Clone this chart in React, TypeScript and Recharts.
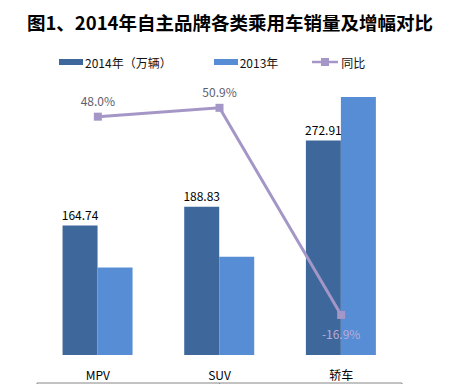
import React from 'react'
import { Bar, ComposedChart, LabelList, Line, XAxis, YAxis } from 'recharts'

const categories = ['MPV', 'SUV', '轿车']
const sales2014 = [164.74, 188.83, 272.91]
const sales2013 = [111.3, 125.1, 328.4]
const growth = [48.0, 50.9, -16.9]

const title = '图1、2014年自主品牌各类乘用车销量及增幅对比'
const legendNames = ['2014年（万辆）', '2013年', '同比']
const frameTicks = [0, 1, 2, 3]

const DARK = '#3E689C'
const LIGHT = '#568DD4'
const LINE = '#A496C6'
const FONT = '"Noto Sans CJK SC", "Noto Sans", sans-serif'

const data = categories.map((name, i) => ({
  name,
  y2014: sales2014[i],
  y2013: sales2013[i],
  yoy: growth[i],
}))

const SquareDot = (props: any) => {
  const { cx, cy } = props
  if (cx == null || cy == null) return null
  return <rect x={cx - 4} y={cy - 4} width={8} height={8} fill={LINE} />
}

const GrowthLabel = (props: any) => {
  const { x, y, value } = props
  const neg = value < 0
  return (
    <text
      x={x}
      y={neg ? y + 19 : y - 16}
      textAnchor="middle"
      dominantBaseline="central"
      fontSize={12}
      fontFamily={FONT}
      fill={neg ? '#B7ABDA' : '#5E5E6E'}
    >
      {value.toFixed(1) + '%'}
    </text>
  )
}

const NoTick = () => <g />

export default function App() {
  return (
    <div style={{ position: 'absolute', left: 0, top: 0, width: 452, height: 384, background: '#fff', fontFamily: FONT }}>
      <div
        style={{
          position: 'absolute',
          left: 4,
          top: 10,
          width: 452,
          textAlign: 'center',
          fontSize: 18.5,
          fontWeight: 'bold',
          lineHeight: '24px',
          color: '#000',
        }}
      >
        {title}
      </div>

      <div style={{ position: 'absolute', left: 59, top: 54, height: 16, display: 'flex', alignItems: 'center', fontSize: 12, color: '#111' }}>
        <span style={{ width: 24, height: 6, background: DARK, marginRight: 2 }} />
        <span>{legendNames[0]}</span>
        <span style={{ width: 24, height: 6, background: LIGHT, marginLeft: 42, marginRight: 2 }} />
        <span>{legendNames[1]}</span>
        <svg width={26} height={10} style={{ marginLeft: 34, marginRight: 3 }}>
          <line x1={0} y1={5} x2={26} y2={5} stroke={LINE} strokeWidth={2.5} />
          <rect x={9} y={1} width={8} height={8} fill={LINE} />
        </svg>
        <span>{legendNames[2]}</span>
      </div>

      <ComposedChart
        width={452}
        height={384}
        data={data}
        margin={{ top: 80, right: 50, bottom: 0, left: 37 }}
        barCategoryGap="21%"
        barGap={0}
        style={{ position: 'absolute', left: 0, top: 0 }}
      >
        <XAxis
          xAxisId="frame"
          type="number"
          domain={[0, 3]}
          ticks={frameTicks}
          height={1}
          tick={NoTick}
          tickSize={5}
          axisLine={{ stroke: '#868686' }}
          tickLine={{ stroke: '#868686' }}
          allowDataOverflow
        />
        <XAxis
          xAxisId="cat"
          dataKey="name"
          height={28}
          axisLine={false}
          tickLine={false}
          tickSize={0}
          tickMargin={16}
          tick={{ fill: '#000', fontSize: 12, fontFamily: FONT }}
        />
        <YAxis yAxisId="left" domain={[0, 350]} hide />
        <YAxis yAxisId="right" orientation="right" domain={[-30, 60]} hide />
        <Bar xAxisId="cat" yAxisId="left" dataKey="y2014" fill={DARK} isAnimationActive={false}>
          <LabelList dataKey="y2014" position="top" offset={6} fill="#000" fontSize={12} fontFamily={FONT} />
        </Bar>
        <Bar xAxisId="cat" yAxisId="left" dataKey="y2013" fill={LIGHT} isAnimationActive={false} />
        <Line
          xAxisId="cat"
          yAxisId="right"
          dataKey="yoy"
          stroke={LINE}
          strokeWidth={3}
          dot={<SquareDot />}
          activeDot={false}
          isAnimationActive={false}
        >
          <LabelList dataKey="yoy" content={<GrowthLabel />} />
        </Line>
      </ComposedChart>
    </div>
  )
}
